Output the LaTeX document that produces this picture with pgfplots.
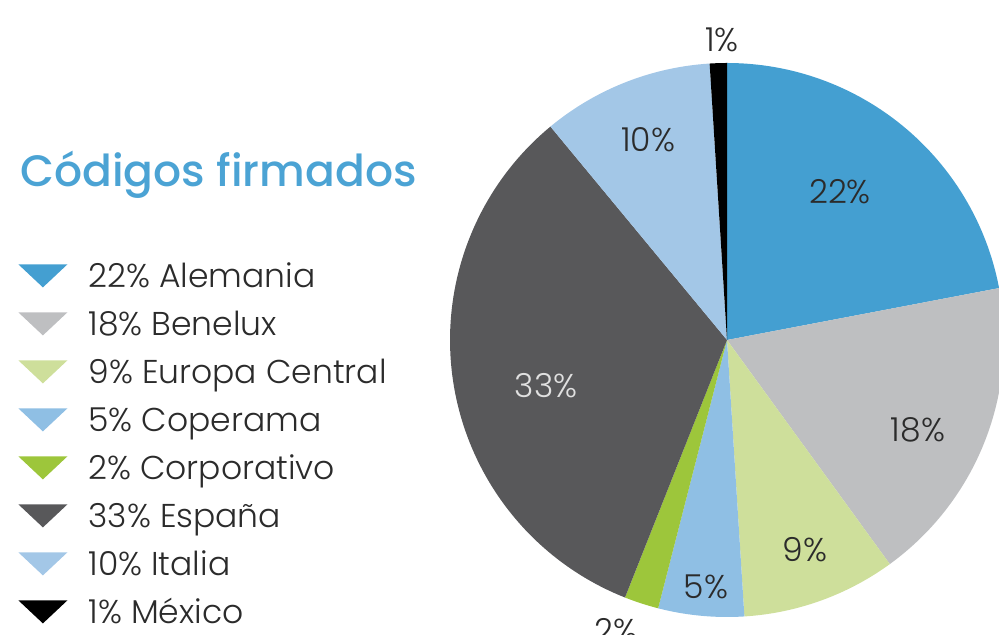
\documentclass[border=0pt]{standalone}
\usepackage{fontspec}
\setmainfont{Poppins}[UprightFont=* Light]
\newfontfamily\titlefont{Poppins}[UprightFont=* Medium]
\usepackage{pgfplots}
\pgfplotsset{compat=1.18}

\definecolor{cAle}{HTML}{449FD1}
\definecolor{cBen}{HTML}{BEBFC1}
\definecolor{cEur}{HTML}{CEDF9B}
\definecolor{cCop}{HTML}{8FBFE4}
\definecolor{cCor}{HTML}{9DC63B}
\definecolor{cEsp}{HTML}{58585A}
\definecolor{cIta}{HTML}{A3C7E7}
\definecolor{cMex}{HTML}{000000}
\definecolor{ctitle}{HTML}{4BA3D4}
\definecolor{ctext}{HTML}{2B2B2B}

% slice: start (cumulative %), share (%), fill colour, legend text
\newcommand{\pieslice}[4]{%
  \addplot[fill=#3, draw=none, domain={90-3.6*(#1+#2)}:{90-3.6*#1}, samples=90]
    ({727+277*cos(x)},{295+277*sin(x)}) -- (axis cs:727,295) -- cycle;
  \addlegendentry{#4}
}

\begin{document}
\begin{tikzpicture}
\useasboundingbox (0,0) rectangle (499.5pt,317.5pt);
\clip (0,0) rectangle (499.5pt,317.5pt);
\begin{axis}[
  width=499.5pt, height=317.5pt, scale only axis,
  xmin=0, xmax=999, ymin=0, ymax=635,
  hide axis, clip=false,
  legend cell align=left,
  legend image code/.code={%
    \fill[#1, draw=none] (0pt,5.5pt) -- (24.5pt,5.5pt) -- (12.25pt,-6pt) -- cycle;
    \path[draw=none, fill=none] (0pt,0pt) -- (35pt,0pt);},
  legend style={at={(axis cs:18,384)}, anchor=north west, draw=none, fill=none,
    inner sep=0pt, row sep=0pt, text=ctext,
    font=\fontsize{16.5}{19}\selectfont,
    nodes={inner sep=0pt, text height=18pt, text depth=6pt}},
]
\pieslice{0}{22}{cAle}{22\% Alemania}
\pieslice{22}{18}{cBen}{18\% Benelux}
\pieslice{40}{9}{cEur}{9\% Europa Central}
\pieslice{49}{5}{cCop}{5\% Coperama}
\pieslice{54}{2}{cCor}{2\% Corporativo}
\pieslice{56}{33}{cEsp}{33\% España}
\pieslice{89}{10}{cIta}{10\% Italia}
\pieslice{99}{1}{cMex}{1\% México}

\begin{scope}[every node/.style={font=\fontsize{16.5}{19}\selectfont, text=ctext}]
\node at (axis cs:840,443) {22\%};
\node at (axis cs:918,205) {18\%};
\node at (axis cs:805,85) {9\%};
\node at (axis cs:706,48) {5\%};
\node at (axis cs:616,4) {2\%};
\node[text=white!88!black] at (axis cs:546,249) {33\%};
\node at (axis cs:648,495) {10\%};
\node at (axis cs:722,595) {1\%};
\end{scope}
\node[anchor=base west, inner sep=0pt, text=ctitle, font=\fontsize{22}{24}\titlefont]
  at (axis cs:20,448) {Códigos firmados};
\end{axis}
\end{tikzpicture}
\end{document}
